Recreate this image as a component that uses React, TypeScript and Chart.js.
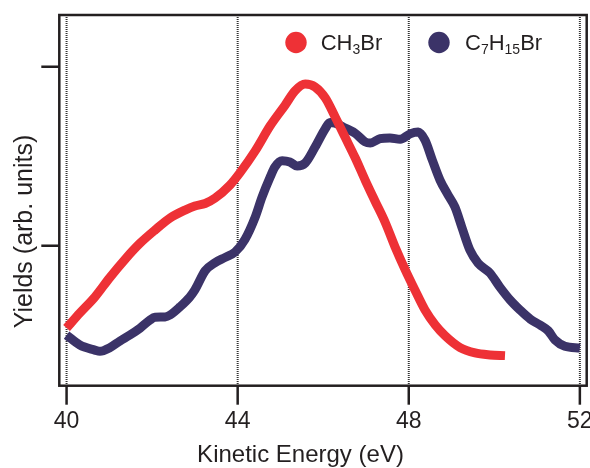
import React, { useEffect, useRef } from "react";
import { Chart, registerables } from "chart.js";

Chart.register(...registerables);

const X_TICKS = [40, 44, 48, 52];
const Y_TICKS = [1, 2];
const X_MIN = 39.83;
const X_MAX = 52.16;
const Y_MIN = 0.218;
const Y_MAX = 2.289;

const RED_LABEL = [{ t: "CH" }, { t: "3", sub: true }, { t: "Br" }];
const BLUE_LABEL = [{ t: "C" }, { t: "7", sub: true }, { t: "H" }, { t: "15", sub: true }, { t: "Br" }];

const RED_X = [40.0, 40.31, 40.66, 41.01, 41.37, 41.71, 42.07, 42.42, 42.77, 43.0, 43.24, 43.47, 43.82, 44.06, 44.41, 44.76, 45.11, 45.34, 45.58, 45.81, 46.05, 46.28, 46.51, 46.75, 46.98, 47.21, 47.45, 47.68, 47.92, 48.15, 48.38, 48.62, 48.85, 49.2, 49.55, 49.9, 50.25];
const RED_Y = [0.54, 0.624, 0.713, 0.822, 0.925, 1.012, 1.088, 1.155, 1.199, 1.222, 1.236, 1.266, 1.339, 1.41, 1.53, 1.67, 1.786, 1.865, 1.903, 1.887, 1.825, 1.719, 1.607, 1.49, 1.367, 1.25, 1.13, 0.993, 0.864, 0.75, 0.641, 0.557, 0.497, 0.431, 0.401, 0.39, 0.386];

const BLUE_X = [40.0, 40.31, 40.66, 40.78, 41.01, 41.25, 41.48, 41.72, 41.95, 42.07, 42.3, 42.42, 42.65, 42.88, 43.0, 43.24, 43.47, 43.71, 43.94, 44.17, 44.41, 44.57, 44.76, 44.87, 45.04, 45.22, 45.39, 45.58, 45.81, 46.05, 46.16, 46.28, 46.51, 46.75, 46.98, 47.1, 47.33, 47.56, 47.8, 48.03, 48.22, 48.38, 48.55, 48.73, 48.92, 49.08, 49.24, 49.43, 49.62, 49.9, 50.13, 50.37, 50.6, 50.84, 51.07, 51.26, 51.42, 51.65, 52.0];
const BLUE_Y = [0.501, 0.445, 0.417, 0.41, 0.43, 0.468, 0.501, 0.54, 0.585, 0.6, 0.602, 0.613, 0.658, 0.713, 0.753, 0.86, 0.905, 0.935, 0.965, 1.035, 1.16, 1.272, 1.384, 1.44, 1.475, 1.468, 1.445, 1.462, 1.551, 1.655, 1.688, 1.685, 1.658, 1.628, 1.58, 1.574, 1.598, 1.602, 1.595, 1.625, 1.635, 1.59, 1.479, 1.367, 1.283, 1.216, 1.104, 0.975, 0.903, 0.847, 0.769, 0.697, 0.641, 0.59, 0.557, 0.525, 0.473, 0.438, 0.428];

const RED = "#EE3136";
const NAVY = "#3B3368";
const FONT = "'Liberation Sans', Arial, Helvetica, sans-serif";
const INK = "#231F20";

function drawChem(ctx: CanvasRenderingContext2D, parts: { t: string; sub?: boolean }[], x: number, baseline: number) {
  let cx = x;
  for (const p of parts) {
    ctx.font = p.sub ? `14px ${FONT}` : `22px ${FONT}`;
    ctx.fillText(p.t, cx, p.sub ? baseline + 4 : baseline);
    cx += ctx.measureText(p.t).width;
  }
}

const decorPlugin = {
  id: "decor",
  beforeDatasetsDraw(chart: any) {
    const { ctx, chartArea, scales } = chart;
    ctx.save();
    ctx.strokeStyle = "#333";
    ctx.lineWidth = 2;
    ctx.setLineDash([1, 1]);
    for (const v of X_TICKS) {
      const px = scales.x.getPixelForValue(v);
      ctx.beginPath();
      ctx.moveTo(px, chartArea.top);
      ctx.lineTo(px, chartArea.bottom);
      ctx.stroke();
    }
    ctx.restore();
  },
  afterDatasetsDraw(chart: any) {
    const { ctx, chartArea, scales } = chart;
    const { left, right, top, bottom } = chartArea;
    ctx.save();
    ctx.strokeStyle = INK;
    ctx.lineWidth = 2.5;
    ctx.setLineDash([]);
    ctx.strokeRect(left, top, right - left, bottom - top);
    for (const v of X_TICKS) {
      const px = scales.x.getPixelForValue(v);
      ctx.beginPath();
      ctx.moveTo(px, bottom);
      ctx.lineTo(px, bottom + 19);
      ctx.stroke();
    }
    for (const v of Y_TICKS) {
      const py = scales.y.getPixelForValue(v);
      ctx.beginPath();
      ctx.moveTo(left, py);
      ctx.lineTo(left - 18, py);
      ctx.stroke();
    }
    // titles
    ctx.fillStyle = INK;
    ctx.textAlign = "center";
    ctx.textBaseline = "alphabetic";
    ctx.font = `24px ${FONT}`;
    ctx.fillText("Kinetic Energy (eV)", 300.5, 462);
    ctx.save();
    ctx.translate(31.7, 231.5);
    ctx.rotate(-Math.PI / 2);
    ctx.font = `25px ${FONT}`;
    ctx.fillText("Yields (arb. units)", 0, 0);
    ctx.restore();
    // legend
    ctx.textAlign = "left";
    ctx.fillStyle = RED;
    ctx.beginPath();
    ctx.arc(296, 42.5, 10.7, 0, Math.PI * 2);
    ctx.fill();
    ctx.fillStyle = NAVY;
    ctx.beginPath();
    ctx.arc(439, 42.5, 10.7, 0, Math.PI * 2);
    ctx.fill();
    ctx.fillStyle = INK;
    drawChem(ctx, RED_LABEL, 320.7, 49.5);
    drawChem(ctx, BLUE_LABEL, 465, 49.5);
    ctx.restore();
  },
};

export default function App() {
  const ref = useRef<HTMLCanvasElement | null>(null);
  useEffect(() => {
    if (!ref.current) return;
    const chart = new Chart(ref.current, {
      type: "line",
      data: {
        datasets: [
          {
            label: "CH3Br",
            data: RED_X.map((x, i) => ({ x, y: RED_Y[i] })),
            borderColor: RED,
            backgroundColor: RED,
            borderWidth: 9,
            pointRadius: 0,
            cubicInterpolationMode: "monotone",
            borderCapStyle: "butt",
            borderJoinStyle: "round",
          },
          {
            label: "C7H15Br",
            data: BLUE_X.map((x, i) => ({ x, y: BLUE_Y[i] })),
            borderColor: NAVY,
            backgroundColor: NAVY,
            borderWidth: 9,
            pointRadius: 0,
            cubicInterpolationMode: "monotone",
            borderCapStyle: "butt",
            borderJoinStyle: "round",
          },
        ],
      },
      options: {
        animation: false,
        responsive: false,
        events: [],
        layout: { padding: { top: 15, right: 3.3, left: 0, bottom: 0 } },
        plugins: { legend: { display: false }, tooltip: { enabled: false } },
        scales: {
          x: {
            type: "linear",
            min: X_MIN,
            max: X_MAX,
            afterBuildTicks: (s: any) => {
              s.ticks = X_TICKS.map((v) => ({ value: v }));
            },
            afterFit: (s: any) => {
              s.height = 82.3;
              s.paddingLeft = 0;
              s.paddingRight = 0;
            },
            grid: { display: false, drawTicks: false },
            border: { display: false },
            ticks: {
              padding: 22.5,
              color: INK,
              font: { family: FONT, size: 23 },
              maxRotation: 0,
              autoSkip: false,
              callback: (v: any) => String(v),
            },
          },
          y: {
            type: "linear",
            min: Y_MIN,
            max: Y_MAX,
            afterFit: (s: any) => {
              s.width = 59.3;
            },
            grid: { display: false, drawTicks: false },
            border: { display: false },
            ticks: { display: false },
          },
        },
      },
      plugins: [decorPlugin],
    });
    return () => chart.destroy();
  }, []);
  return (
    <div style={{ position: "fixed", left: 0, top: 0, width: 590, height: 468, background: "#fff" }}>
      <canvas ref={ref} width={590} height={468} style={{ display: "block" }} />
    </div>
  );
}
